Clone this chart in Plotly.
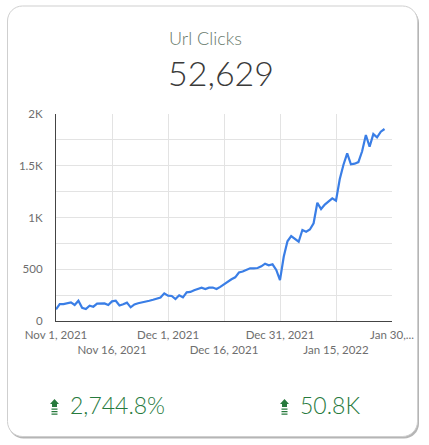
import datetime as dt
import plotly.graph_objects as go

# ---------------- data ----------------
start_date = "2021-11-01"
clicks = [113, 164, 164, 172, 180, 155, 196, 128, 116, 148,
          138, 168, 171, 170, 155, 190, 196, 150, 162, 177,
          132, 160, 172, 182, 193, 196, 205, 219, 227, 267,
          245, 242, 212, 248, 229, 277, 281, 298, 310, 322,
          309, 322, 323, 309, 330, 356, 381, 403, 422, 468,
          478, 490, 509, 509, 512, 528, 554, 538, 548, 493,
          395, 621, 770, 821, 789, 766, 879, 863, 884, 944,
          1143, 1082, 1125, 1160, 1185, 1162, 1370, 1510, 1620, 1514,
          1520, 1535, 1640, 1797, 1684, 1806, 1774, 1829, 1855]
x_tick_dates = ["2021-11-01", "2021-11-16", "2021-12-01", "2021-12-16",
                "2021-12-31", "2022-01-15", "2022-01-30"]
x_tick_labels = ["Nov 1, 2021", " <br>Nov 16, 2021", "Dec 1, 2021", " <br>Dec 16, 2021",
                 "Dec 31, 2021", " <br>Jan 15, 2022", "Jan 30,..."]
y_tick_vals = [0, 500, 1000, 1500, 2000]
y_tick_labels = ["0", "500", "1K", "1.5K", "2K"]
title_text = "Url Clicks"
total_text = "52,629"
change_pct_text = "2,744.8%"
change_abs_text = "50.8K"

d0 = dt.date.fromisoformat(start_date)
dates = [d0 + dt.timedelta(days=i) for i in range(len(clicks))]

W, H = 429, 445
L, R, T, B = 56, 392, 114, 321


def px(x):
    return (x - L) / (R - L)


def py(y):
    return (B - y) / (B - T)


def rounded_rect(x0, y0, x1, y1, r):
    k = 0.5523 * r
    pts = []
    pts.append(f"M {px(x0 + r)},{py(y0)}")
    pts.append(f"L {px(x1 - r)},{py(y0)}")
    pts.append(f"C {px(x1 - r + k)},{py(y0)} {px(x1)},{py(y0 + r - k)} {px(x1)},{py(y0 + r)}")
    pts.append(f"L {px(x1)},{py(y1 - r)}")
    pts.append(f"C {px(x1)},{py(y1 - r + k)} {px(x1 - r + k)},{py(y1)} {px(x1 - r)},{py(y1)}")
    pts.append(f"L {px(x0 + r)},{py(y1)}")
    pts.append(f"C {px(x0 + r - k)},{py(y1)} {px(x0)},{py(y1 - r + k)} {px(x0)},{py(y1 - r)}")
    pts.append(f"L {px(x0)},{py(y0 + r)}")
    pts.append(f"C {px(x0)},{py(y0 + r - k)} {px(x0 + r - k)},{py(y0)} {px(x0 + r)},{py(y0)}")
    pts.append("Z")
    return " ".join(pts)


def arrow_path(cx, top):
    head = (f"M {px(cx - 4.5)},{py(top + 5)} L {px(cx)},{py(top)} "
            f"L {px(cx + 4.5)},{py(top + 5)} Z")
    stem = (f"M {px(cx - 2.5)},{py(top + 5)} L {px(cx + 2.5)},{py(top + 5)} "
            f"L {px(cx + 2.5)},{py(top + 8)} L {px(cx - 2.5)},{py(top + 8)} Z")
    bars = ""
    for yy in (top + 9.5, top + 12, top + 14.5):
        bars += (f" M {px(cx - 3)},{py(yy)} L {px(cx + 3)},{py(yy)} "
                 f"L {px(cx + 3)},{py(yy + 1.2)} L {px(cx - 3)},{py(yy + 1.2)} Z")
    return head + " " + stem + bars


fig = go.Figure()
fig.add_trace(go.Scatter(
    x=dates, y=clicks, mode="lines",
    line=dict(color="#3a7ee6", width=2.2),
    hoverinfo="skip", showlegend=False,
))

green = "#277a3d"
shapes = [
    dict(type="path", xref="paper", yref="paper", layer="below",
         path=rounded_rect(8.5, 8, 419, 438.5, 15),
         fillcolor="#b5b5b5", line=dict(width=0)),
    dict(type="path", xref="paper", yref="paper", layer="below",
         path=rounded_rect(7.5, 6, 417.5, 436.5, 15),
         fillcolor="white", line=dict(color="#cfcfcf", width=1)),
    dict(type="path", xref="paper", yref="paper", layer="above",
         path=arrow_path(54.5, 399), fillcolor=green, line=dict(width=0)),
    dict(type="path", xref="paper", yref="paper", layer="above",
         path=arrow_path(284.5, 399), fillcolor=green, line=dict(width=0)),
]

font_family = "Lato, 'Open Sans', sans-serif"
annotations = [
    dict(text=title_text, x=px(167), y=py(38), xref="paper", yref="paper",
         xanchor="left", yanchor="middle", showarrow=False,
         font=dict(family=font_family, size=18, color="#66786a", weight=300)),
    dict(text=total_text, x=px(166), y=py(72), xref="paper", yref="paper",
         xanchor="left", yanchor="middle", showarrow=False,
         font=dict(family=font_family, size=34, color="#3a3a3a", weight=300)),
    dict(text=change_pct_text, x=px(68), y=py(405), xref="paper", yref="paper",
         xanchor="left", yanchor="middle", showarrow=False,
         font=dict(family=font_family, size=23, color=green, weight=300)),
    dict(text=change_abs_text, x=px(298), y=py(405), xref="paper", yref="paper",
         xanchor="left", yanchor="middle", showarrow=False,
         font=dict(family=font_family, size=23, color=green, weight=300)),
]

fig.update_layout(
    width=W, height=H,
    margin=dict(l=L, r=W - R, t=T, b=H - B, pad=0),
    paper_bgcolor="white", plot_bgcolor="rgba(0,0,0,0)",
    font=dict(family=font_family, size=11, color="#757575"),
    shapes=shapes, annotations=annotations,
    showlegend=False,
)
fig.update_xaxes(
    range=[dt.date(2021, 11, 1), dt.date(2022, 1, 30)],
    tickvals=[dt.date.fromisoformat(d) for d in x_tick_dates],
    ticktext=x_tick_labels, tickangle=0,
    showgrid=True, gridcolor="#e3e3e3", gridwidth=1,
    showline=True, linecolor="#444", linewidth=1.2,
    ticks="", ticklabelstandoff=3, tickfont=dict(size=11.5, color="#6e6e6e"),
    zeroline=False, fixedrange=True,
)
fig.update_yaxes(
    range=[0, 2000],
    tickvals=y_tick_vals, ticktext=y_tick_labels,
    showgrid=True, gridcolor="#e3e3e3", gridwidth=1,
    minor=dict(dtick=250, tick0=0, showgrid=True, gridcolor="#e3e3e3", gridwidth=1),
    showline=True, linecolor="#444", linewidth=1.2,
    ticks="", ticklabelstandoff=10, tickfont=dict(size=11.5, color="#6e6e6e"),
    zeroline=False, fixedrange=True,
)

fig.write_html("out.html", config=dict(displayModeBar=False))
